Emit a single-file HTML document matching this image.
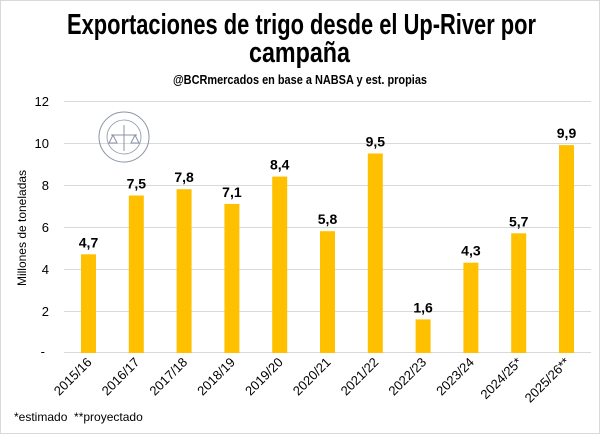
<!DOCTYPE html>
<html><head><meta charset="utf-8"><style>
body{margin:0;background:#fff}
#c{position:relative;width:598px;height:432px;border:1px solid #d9d9d9;overflow:hidden;font-family:"Liberation Sans",sans-serif;background:#fff}
</style></head><body><div id="c">
<svg width="598" height="432" style="position:absolute;left:0;top:0" font-family="Liberation Sans, sans-serif">
<text x="66" y="33" font-size="29" font-weight="bold" textLength="469" lengthAdjust="spacingAndGlyphs">Exportaciones de trigo desde el Up-River por</text>
<text x="248" y="61" font-size="29" font-weight="bold" textLength="101" lengthAdjust="spacingAndGlyphs">campaña</text>
<text x="172" y="83" font-size="13" font-weight="bold" textLength="254" lengthAdjust="spacingAndGlyphs">@BCRmercados  en base a NABSA y est. propias</text>
<g stroke="#d9d9d9" stroke-width="1">
<line x1="63" x2="590" y1="100.5" y2="100.5"/><line x1="63" x2="590" y1="142.5" y2="142.5"/>
<line x1="63" x2="590" y1="184.5" y2="184.5"/><line x1="63" x2="590" y1="226.5" y2="226.5"/>
<line x1="63" x2="590" y1="268.5" y2="268.5"/><line x1="63" x2="590" y1="310.5" y2="310.5"/>
<line x1="63" x2="590" y1="351.5" y2="351.5"/>
</g>
<g font-size="13" fill="#000" text-anchor="end">
<text x="48" y="105">12</text><text x="48" y="147">10</text><text x="48" y="189">8</text>
<text x="48" y="231">6</text><text x="48" y="273">4</text><text x="48" y="315">2</text><text x="44" y="355">-</text>
</g>
<text transform="translate(25,227) rotate(-90)" text-anchor="middle" font-size="12">Millones de toneladas</text>
<g stroke="#8a93a6" fill="none">
<circle cx="123" cy="136" r="25" stroke-width="1"/><circle cx="123" cy="136" r="17" stroke-width="0.8"/>
<line x1="110" y1="134" x2="136" y2="134"/><line x1="123" y1="124" x2="123" y2="150"/>
<path d="M108 142 l4 -8 l4 8 z M130 142 l4 -8 l4 8 z"/>
</g>
<g fill="#ffc000" id="bars"></g>
<g id="lab" font-size="14" font-weight="bold" text-anchor="middle"></g>
<g id="xl" font-size="13" text-anchor="end"></g>
<text x="13" y="420" font-size="12">*estimado&nbsp; **proyectado</text>
</svg>
<script>
var v=[4.7,7.5,7.8,7.1,8.4,5.8,9.5,1.6,4.3,5.7,9.9],n=["2015/16","2016/17","2017/18","2018/19","2019/20","2020/21","2021/22","2022/23","2023/24","2024/25*","2025/26**"];
var b="",l="",x="";
for(var i=0;i<11;i++){var L=80+47.8*i,c=L+7.5,h=v[i]*21,y=352-h;
b+='<rect x="'+L+'" y="'+y+'" width="15" height="'+h+'"/>';
l+='<text x="'+c+'" y="'+(y-7)+'">'+v[i].toFixed(1).replace(".",",")+'</text>';
x+='<text transform="translate('+(c+4)+',362) rotate(-45)">'+n[i]+'</text>';}
document.getElementById("bars").innerHTML=b;document.getElementById("lab").innerHTML=l;document.getElementById("xl").innerHTML=x;
</script>
</div></body></html>
